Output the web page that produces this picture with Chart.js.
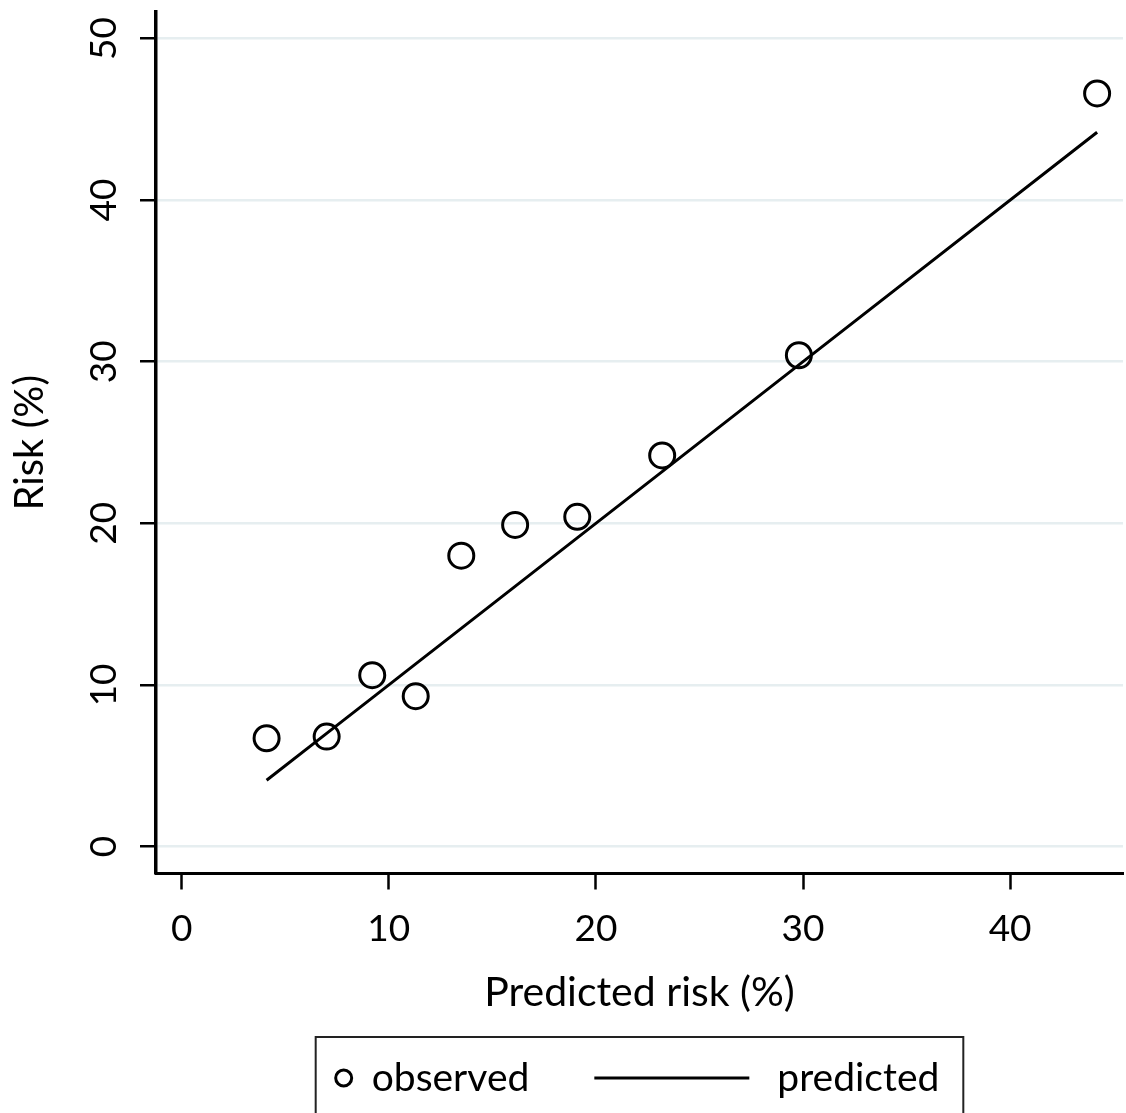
<!DOCTYPE html>
<html lang="en">
<head>
<title>Observed vs predicted risk</title>
<meta charset="utf-8"/>
<script src="https://cdn.jsdelivr.net/npm/chart.js"></script>
<style>
html, body {
  margin: 0;
  padding: 0;
  background: #fff;
}
</style>
</head>
<body>
<canvas id="chart" width="1126" height="1113"></canvas>
<script>
"use strict";
// values
const predictedRisk = [4.1, 7.0, 9.2, 11.3, 13.5, 16.1, 19.1, 23.2, 29.8, 44.2];
const observedRisk  = [6.7, 6.8, 10.6, 9.3, 18.0, 19.9, 20.4, 24.2, 30.4, 46.6];
const xTicks = [0, 10, 20, 30, 40];
const yTicks = [0, 10, 20, 30, 40, 50];
const xTitle = "Predicted risk (%)";
const yTitle = "Risk (%)";
const seriesNames = ["observed", "predicted"];

const FONT = "Lato";
Chart.defaults.font.family = FONT;
Chart.defaults.color = "#000";

// Stata-like boxed legend under the plot
const boxLegend = {
  id: "boxLegend",
  afterDraw(chart){
    const ctx = chart.ctx;
    const cx = (chart.chartArea.left + chart.chartArea.right) / 2;
    const top = 1037;
    const midY = 1078;
    ctx.save();
    ctx.font = "39px " + FONT;
    const w1 = ctx.measureText(seriesNames[0]).width;
    const w2 = ctx.measureText(seriesNames[1]).width;
    const total = 20 + 16 + 20 + w1 + 65 + 155 + 28 + w2 + 24;
    let x = cx - total / 2;
    ctx.strokeStyle = "#222";
    ctx.lineWidth = 2;
    ctx.strokeRect(x, top, total, 100);
    x += 20;
    ctx.beginPath();
    ctx.arc(x + 8, midY, 8, 0, Math.PI * 2);
    ctx.lineWidth = 3;
    ctx.strokeStyle = "#000";
    ctx.stroke();
    x += 16 + 20;
    ctx.fillStyle = "#000";
    ctx.textBaseline = "middle";
    ctx.fillText(seriesNames[0], x, midY);
    x += w1 + 65;
    ctx.beginPath();
    ctx.moveTo(x, midY);
    ctx.lineTo(x + 155, midY);
    ctx.lineWidth = 3;
    ctx.stroke();
    x += 155 + 28;
    ctx.fillText(seriesNames[1], x, midY);
    ctx.restore();
  }
};

new Chart(document.getElementById("chart"), {
  type: "scatter",
  data: {
    datasets: [
      {
        label: seriesNames[0],
        data: predictedRisk.map((p, i) => ({x: p, y: observedRisk[i]})),
        pointStyle: "circle",
        pointRadius: 12.5,
        pointBorderWidth: 3,
        borderColor: "#000",
        backgroundColor: "rgba(0,0,0,0)",
        showLine: false,
        order: 1
      },
      {
        label: seriesNames[1],
        data: predictedRisk.map(p => ({x: p, y: p})),
        showLine: true,
        borderColor: "#000",
        borderWidth: 3,
        pointRadius: 0,
        order: 2
      }
    ]
  },
  options: {
    responsive: false,
    animation: false,
    layout: {
      autoPadding: false,
      padding: {left: 0, right: 3, top: 12, bottom: 83}
    },
    plugins: {
      legend: {display: false},
      tooltip: {enabled: false}
    },
    scales: {
      x: {
        type: "linear",
        min: -1.24,
        max: 45.45,
        afterBuildTicks: s => { s.ticks = xTicks.map(v => ({value: v})); },
        afterFit: s => {
          s.height = 156.5;
          s.paddingLeft = 0;
          s.paddingRight = 0;
        },
        border: {color: "#000", width: 3},
        grid: {
          drawOnChartArea: false,
          tickLength: 16,
          tickColor: "#000",
          tickWidth: 2.5
        },
        ticks: {
          font: {size: 37},
          padding: 17,
          maxRotation: 0
        },
        title: {
          display: true,
          text: xTitle,
          font: {size: 41},
          padding: {top: 0, bottom: 13}
        }
      },
      y: {
        type: "linear",
        min: -1.67,
        max: 51.64,
        afterBuildTicks: s => { s.ticks = yTicks.map(v => ({value: v})); },
        afterFit: s => {
          s.width = 156;
          s.paddingTop = 0;
          s.paddingBottom = 0;
        },
        border: {color: "#000", width: 3.5},
        grid: {
          color: "#e6eef0",
          lineWidth: 2.5,
          tickLength: 16,
          tickColor: "#000",
          tickWidth: 2.5
        },
        ticks: {
          font: {size: 37},
          minRotation: 90,
          maxRotation: 90,
          crossAlign: "center",
          padding: 14
        },
        title: {
          display: true,
          text: yTitle,
          font: {size: 40},
          padding: {top: 6, bottom: 0}
        }
      }
    }
  },
  plugins: [boxLegend]
});
</script>
</body>
</html>
